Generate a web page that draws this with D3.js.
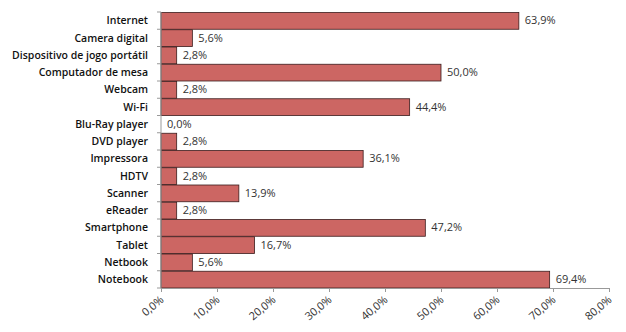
<!DOCTYPE html>
<html><head><meta charset="utf-8">
<script src="https://cdn.jsdelivr.net/npm/d3@7"></script>
<style>body{margin:0;background:#fff}svg{display:block}</style>
</head><body>
<script>
const categories = ["Internet","Camera digital","Dispositivo de jogo portátil","Computador de mesa","Webcam","Wi-Fi","Blu-Ray player","DVD player","Impressora","HDTV","Scanner","eReader","Smartphone","Tablet","Netbook","Notebook"];
const values = [63.9,5.6,2.8,50.0,2.8,44.4,0.0,2.8,36.1,2.8,13.9,2.8,47.2,16.7,5.6,69.4];
const tickValues = [0,10,20,30,40,50,60,70,80];

const W=626,H=332;
const m={left:161,right:17,top:12,bottom:44};
const svg=d3.select("body").append("svg").attr("width",W).attr("height",H);
const x=d3.scaleLinear().domain([0,80]).range([m.left,W-m.right]);
const y=d3.scaleBand().domain(categories).range([m.top,H-m.bottom]).paddingInner(0).paddingOuter(0);
const fmt=v=>v.toFixed(1).replace(".",",")+"%";
const font="'Open Sans', 'Noto Sans', sans-serif";

svg.selectAll("rect.bar").data(categories).enter().append("rect")
 .attr("x",x(0)).attr("y",d=>y(d)+0.5).attr("height",y.bandwidth()-0.5)
 .attr("width",(d,i)=>x(values[i])-x(0))
 .attr("fill","#cc6663").attr("stroke","#3b1c1c").attr("stroke-width",0.8);

svg.selectAll("text.val").data(categories).enter().append("text")
 .attr("x",(d,i)=>x(values[i])+6).attr("y",d=>y(d)+y.bandwidth()/2).attr("dy","0.35em")
 .attr("font-family",font).attr("font-size",11).attr("fill","#333")
 .text((d,i)=>fmt(values[i]));

// y axis
const ya=svg.append("g").attr("transform",`translate(${m.left},0)`);
ya.append("line").attr("x1",0).attr("x2",0).attr("y1",m.top).attr("y2",H-m.bottom).attr("stroke","#999");
const bounds=categories.map(c=>y(c)).concat([H-m.bottom]);
ya.selectAll("line.t").data(bounds).enter().append("line")
 .attr("x1",-4).attr("x2",0).attr("y1",d=>d).attr("y2",d=>d).attr("stroke","#999");
ya.selectAll("text").data(categories).enter().append("text")
 .attr("x",-13).attr("y",d=>y(d)+y.bandwidth()/2).attr("dy","0.35em")
 .attr("text-anchor","end").attr("font-family",font).attr("font-size",10.5).attr("font-weight",600).attr("fill","#111")
 .text(d=>d);

// x axis
const xa=svg.append("g").attr("transform",`translate(0,${H-m.bottom})`)
 .call(d3.axisBottom(x).tickValues(tickValues).tickSize(4).tickFormat(d=>fmt(d)));
xa.select(".domain").attr("stroke","#999");
xa.selectAll(".tick line").attr("stroke","#999");
xa.selectAll(".tick text").attr("font-family",font).attr("font-size",11).attr("fill","#333")
 .attr("text-anchor","end").attr("dy",0).attr("y",0)
 .attr("transform","translate(3,13) rotate(-40)");
</script>
</body></html>
